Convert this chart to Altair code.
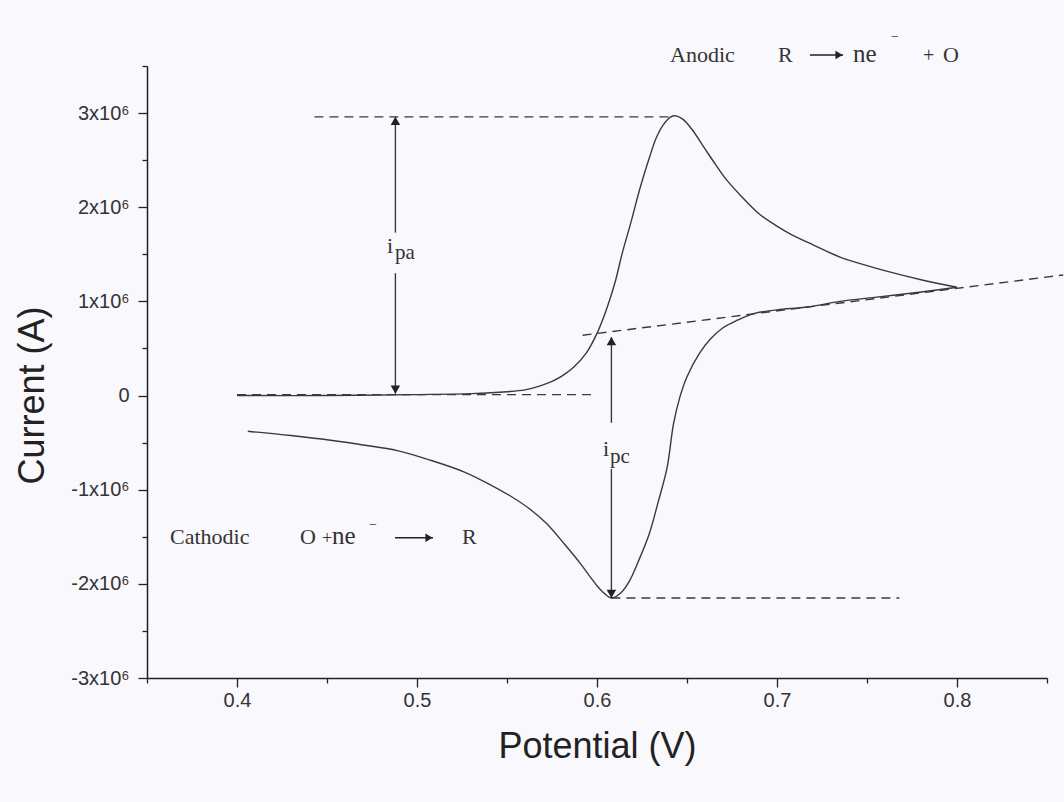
import altair as alt
import pandas as pd

# ---- data (current in units of 10^6 A) ----
fwd_x = [0.400, 0.450, 0.500, 0.530, 0.550, 0.560, 0.568, 0.575, 0.580, 0.587, 0.594, 0.600,
         0.605, 0.610, 0.614, 0.619, 0.624, 0.629, 0.633, 0.637, 0.641, 0.644, 0.648, 0.653,
         0.660, 0.666, 0.672, 0.680, 0.690, 0.700, 0.707, 0.720, 0.735, 0.750, 0.763, 0.780, 0.800]
fwd_y = [0.00, 0.00, 0.01, 0.02, 0.04, 0.06, 0.10, 0.15, 0.20, 0.30, 0.45, 0.66,
         0.90, 1.20, 1.51, 1.85, 2.21, 2.52, 2.74, 2.88, 2.96, 2.97, 2.93, 2.82,
         2.62, 2.45, 2.29, 2.12, 1.93, 1.80, 1.72, 1.60, 1.47, 1.38, 1.31, 1.23, 1.15]

rev_x = [0.800, 0.780, 0.753, 0.735, 0.717, 0.700, 0.687, 0.678, 0.670, 0.663, 0.657, 0.650,
         0.646, 0.6425, 0.639, 0.634, 0.629, 0.623, 0.618, 0.613, 0.608, 0.604, 0.600,
         0.596, 0.591, 0.582, 0.572, 0.563, 0.553, 0.540, 0.526, 0.508, 0.489, 0.470, 0.452,
         0.430, 0.406]
rev_y = [1.15, 1.10, 1.04, 1.00, 0.94, 0.91, 0.87, 0.80, 0.72, 0.60, 0.45, 0.20,
         -0.02, -0.30, -0.76, -1.13, -1.47, -1.76, -1.97, -2.10, -2.15, -2.10, -2.02,
         -1.92, -1.79, -1.58, -1.36, -1.21, -1.08, -0.94, -0.81, -0.69, -0.585, -0.525, -0.475,
         -0.425, -0.38]

# dashed guide lines: (x1, y1, x2, y2)
dash_x1 = [0.443, 0.400, 0.592, 0.608]
dash_y1 = [2.96, 0.01, 0.64, -2.15]
dash_x2 = [0.642, 0.599, 0.859, 0.768]
dash_y2 = [2.96, 0.01, 1.28, -2.15]

# peak-current arrows (stem segments)
stem_x = [0.488, 0.488, 0.608, 0.608]
stem_y1 = [2.96, 1.30, 0.62, -0.78]
stem_y2 = [1.73, 0.02, -0.29, -2.15]
head_up_x = [0.488, 0.608]
head_up_y = [2.96, 0.62]
head_dn_x = [0.488, 0.608]
head_dn_y = [0.02, -2.15]

# reaction arrows
rxn_x1 = [0.7183, 0.4878]
rxn_x2 = [0.7367, 0.5089]
rxn_y = [3.617, -1.511]

# annotation texts
ann_text = ["Anodic", "R", "ne", "−", "+", "O",
            "Cathodic", "O", "+", "ne", "−", "R",
            "i", "pa", "i", "pc"]
ann_x = [0.6406, 0.7006, 0.7422, 0.7633, 0.7811, 0.7922,
         0.3628, 0.4350, 0.4472, 0.4528, 0.4733, 0.5250,
         0.4833, 0.4878, 0.6033, 0.6072]
ann_y = [3.543, 3.543, 3.543, 3.761, 3.543, 3.543,
         -1.574, -1.574, -1.574, -1.574, -1.420, -1.574,
         1.511, 1.448, -0.638, -0.713]
ann_fs = [22, 22, 25, 14, 20, 22,
          22, 22, 18, 25, 14, 22,
          22, 21, 22, 21]

x_major = [0.4, 0.5, 0.6, 0.7, 0.8]
x_minor = [0.35, 0.45, 0.55, 0.65, 0.75, 0.85]
y_major = [-3, -2, -1, 0, 1, 2, 3]
y_minor = [-2.5, -1.5, -0.5, 0.5, 1.5, 2.5, 3.5]

INK = "#3a3a3a"
BG = "#f9f8fc"

curve = pd.DataFrame({
    "E": fwd_x + rev_x,
    "I": fwd_y + rev_y,
    "o": list(range(len(fwd_x) + len(rev_x))),
})
dashes = pd.DataFrame({"x1": dash_x1, "y1": dash_y1, "x2": dash_x2, "y2": dash_y2})
stems = pd.DataFrame({"x": stem_x, "y1": stem_y1, "y2": stem_y2})
hup = pd.DataFrame({"x": head_up_x, "y": head_up_y})
hdn = pd.DataFrame({"x": head_dn_x, "y": head_dn_y})
rxn = pd.DataFrame({"x1": rxn_x1, "x2": rxn_x2, "y": rxn_y})
ann = pd.DataFrame({"x": ann_x, "y": ann_y, "t": ann_text, "fs": ann_fs})

xs = alt.Scale(domain=[0.35, 0.85], nice=False, zero=False)
ys = alt.Scale(domain=[-3, 3.5], nice=False, zero=False)

label_font = "Liberation Sans"

x_axis_major = alt.Axis(
    values=x_major, format=".1f", orient="bottom", grid=False,
    tickSize=9, tickColor="#222", tickWidth=1.3,
    domainColor="#222", domainWidth=1.5,
    labelFont=label_font, labelFontSize=20, labelColor="#333", labelPadding=3,
    title="Potential (V)", titleFont=label_font, titleFontSize=36,
    titleFontWeight="normal", titleColor="#222", titleY=79, titleBaseline="alphabetic",
)
y_axis_major = alt.Axis(
    values=y_major, orient="left", grid=False,
    labelExpr="datum.value == 0 ? '0' : datum.value + 'x10⁶'",
    tickSize=9, tickColor="#222", tickWidth=1.3,
    domainColor="#222", domainWidth=1.5,
    labelFont=label_font, labelFontSize=20, labelColor="#333", labelPadding=9,
    title="Current (A)", titleFont=label_font, titleFontSize=36,
    titleFontWeight="normal", titleColor="#222", titleX=-104, titleY=329,
    titleBaseline="alphabetic", titleAngle=270,
)
x_axis_minor = alt.Axis(values=x_minor, orient="bottom", grid=False, labels=False,
                        domain=False, tickSize=5, tickColor="#222", tickWidth=1.3, title=None)
y_axis_minor = alt.Axis(values=y_minor, orient="left", grid=False, labels=False,
                        domain=False, tickSize=5, tickColor="#222", tickWidth=1.3, title=None)

line = alt.Chart(curve).mark_line(color=INK, strokeWidth=1.4, interpolate="catmull-rom").encode(
    x=alt.X("E:Q", scale=xs, axis=x_axis_major),
    y=alt.Y("I:Q", scale=ys, axis=y_axis_major),
    order="o:Q",
)

dash_layer = alt.Chart(dashes).mark_rule(color=INK, strokeWidth=1.4, strokeDash=[9, 6]).encode(
    x=alt.X("x1:Q", scale=xs, axis=x_axis_minor),
    y=alt.Y("y1:Q", scale=ys, axis=y_axis_minor),
    x2="x2:Q", y2="y2:Q",
)

stem_layer = alt.Chart(stems).mark_rule(color=INK, strokeWidth=1.4).encode(
    x=alt.X("x:Q", scale=xs, axis=None), y=alt.Y("y1:Q", scale=ys, axis=None), y2="y2:Q",
)
up_layer = alt.Chart(hup).mark_point(shape="triangle-up", filled=True, size=90, color="#222",
                                     opacity=1, yOffset=4).encode(
    x=alt.X("x:Q", scale=xs, axis=None), y=alt.Y("y:Q", scale=ys, axis=None),
)
dn_layer = alt.Chart(hdn).mark_point(shape="triangle-down", filled=True, size=90, color="#222",
                                     opacity=1, yOffset=-4).encode(
    x=alt.X("x:Q", scale=xs, axis=None), y=alt.Y("y:Q", scale=ys, axis=None),
)
rxn_line = alt.Chart(rxn).mark_rule(color="#222", strokeWidth=1.4).encode(
    x=alt.X("x1:Q", scale=xs, axis=None), x2="x2:Q", y=alt.Y("y:Q", scale=ys, axis=None),
)
rxn_head = alt.Chart(rxn).mark_point(shape="triangle-right", filled=True, size=70, color="#222",
                                     opacity=1, xOffset=-4).encode(
    x=alt.X("x2:Q", scale=xs, axis=None), y=alt.Y("y:Q", scale=ys, axis=None),
)
text_layer = alt.Chart(ann).mark_text(font="Liberation Serif", align="left",
                                      baseline="alphabetic", color="#333").encode(
    x=alt.X("x:Q", scale=xs, axis=None), y=alt.Y("y:Q", scale=ys, axis=None),
    text="t:N", size=alt.Size("fs:Q", scale=None),
)

chart = alt.layer(
    line, dash_layer, stem_layer, up_layer, dn_layer, rxn_line, rxn_head, text_layer
).resolve_axis(x="independent", y="independent").properties(
    width=900, height=612,
    autosize=alt.AutoSizeParams(type="none"),
    padding={"left": 147, "top": 66, "right": 17, "bottom": 124},
    background=BG,
).configure_view(stroke=None)

chart.save("out.html", embed_options={"renderer": "svg", "actions": False})
